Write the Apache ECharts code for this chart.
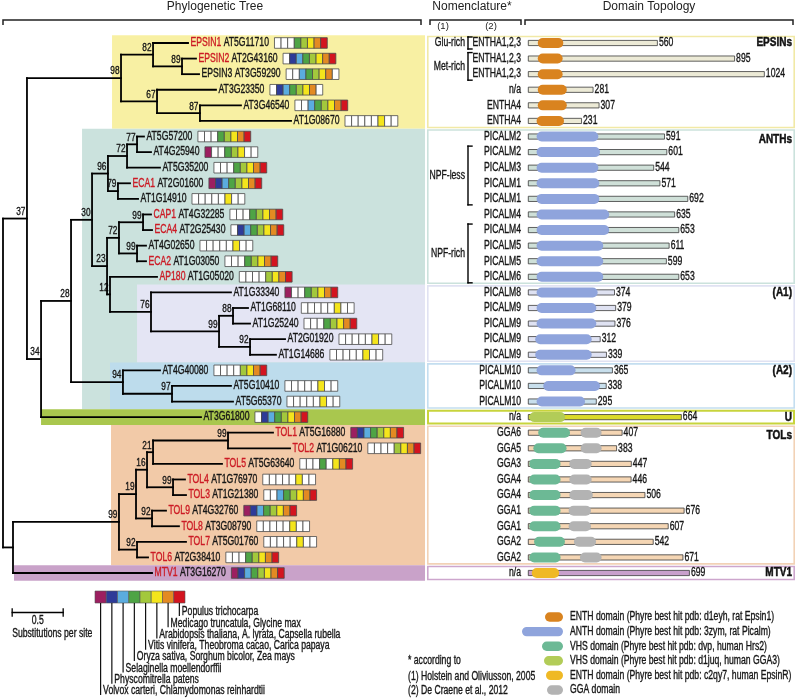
<!DOCTYPE html>
<html><head><meta charset="utf-8">
<script src="https://cdn.jsdelivr.net/npm/echarts@6/dist/echarts.min.js"></script>
<style>html,body{margin:0;padding:0;background:#fff}#c{width:797px;height:700px}</style>
</head><body><div id="c"></div>
<script>
// ---------------- DATA ----------------
const geneIds = ['AT5G11710','AT2G43160','AT3G59290','AT3G23350','AT3G46540','AT1G08670',
 'AT5G57200','AT4G25940','AT5G35200','AT2G01600','AT1G14910','AT4G32285','AT2G25430','AT4G02650','AT1G03050','AT1G05020',
 'AT1G33340','AT1G68110','AT1G25240','AT2G01920','AT1G14686',
 'AT4G40080','AT5G10410','AT5G65370','AT3G61800',
 'AT5G16880','AT1G06210','AT5G63640','AT1G76970','AT1G21380','AT4G32760','AT3G08790','AT5G01760','AT2G38410',
 'AT3G16270'];
const proteinNames = ['EPSIN1','EPSIN2','EPSIN3','','','',
 '','','','ECA1','','CAP1','ECA4','','ECA2','AP180',
 '','','','','',
 '','','','',
 'TOL1','TOL2','TOL5','TOL4','TOL3','TOL9','TOL8','TOL7','TOL6',
 'MTV1'];
const studiedNames = ['EPSIN1','EPSIN2','ECA1','CAP1','ECA4','ECA2','AP180','TOL1','TOL2','TOL5','TOL4','TOL3','TOL9','TOL8','TOL7','TOL6','MTV1'];
// presence in: Volvox/Chlamy, Physcomitrella, Selaginella, Oryza.., Vitis.., Arabidopsis.., Medicago.., Populus
const speciesPresence = ['00011111','01111111','00111110','01111110','00111111','00000100',
 '00011111','10011100','00011111','11111111','00000100','00011111','01111111','00000100','00011111','00001111',
 '10011111','00000100','00011111','00000100','00000100',
 '00001111','00000100','00000100','01111111',
 '11111111','00001111','00010111','00000100','00111111','11111111','00000100','00000100','00011111',
 '11111111'];
const speciesLabels = ['Volvox carteri, Chlamydomonas reinhardtii','Physcomitrella patens','Selaginella moellendorffii',
 'Oryza sativa, Sorghum bicolor, Zea mays','Vitis vinifera, Theobroma cacao, Carica papaya',
 'Arabidopsis thaliana, A. lyrata, Capsella rubella','Medicago truncatula, Glycine max','Populus trichocarpa'];
// tree: [node, parent, branch length (substitutions/site), bootstrap]
const treeEdges = [
 ['n37','root',0.235,37],['nTM','root',0.098,null],
 ['n98','n37',0.922,98],['n34','n37',0.138,34],
 ['n82','n98',0.314,82],['n67','n98',0.353,67],
 ['AT5G11710','n82',0.343,null],['n89','n82',0.284,89],
 ['AT2G43160','n89',0.137,null],['AT3G59290','n89',0.167,null],
 ['AT3G23350','n67',0.578,null],['n87','n67',0.421,87],
 ['AT3G46540','n87',0.402,null],['AT1G08670','n87',0.893,null],
 ['n28','n34',0.294,28],['AT3G61800','n34',1.568,null],
 ['n30','n28',0.206,30],['n94','n28',0.509,94],
 ['n96','n30',0.156,96],['n23','n30',0.147,23],
 ['n72a','n96',0.187,72],['n79','n96',0.098,79],
 ['n77','n72a',0.098,77],['AT5G35200','n72a',0.323,null],
 ['AT5G57200','n77',0.068,null],['AT4G25940','n77',0.137,null],
 ['AT2G01600','n79',0.118,null],['AT1G14910','n79',0.197,null],
 ['n72b','n23',0.117,72],['n12','n23',0.029,12],
 ['n99a','n72b',0.236,99],['n99b','n72b',0.177,99],
 ['AT4G32285','n99a',0.078,null],['AT2G25430','n99a',0.088,null],
 ['AT4G02650','n99b',0.088,null],['AT1G03050','n99b',0.088,null],
 ['AT1G05020','n12',0.461,null],['n76','n12',0.402,76],
 ['AT1G33340','n76',0.784,null],['n99c','n76',0.667,99],
 ['n88','n99c',0.137,88],['n92c','n99c',0.304,92],
 ['AT1G68110','n88',0.147,null],['AT1G25240','n88',0.167,null],
 ['AT2G01920','n92c',0.343,null],['AT1G14686','n92c',0.254,null],
 ['AT4G40080','n94',0.363,null],['n97','n94',0.481,97],
 ['AT5G10410','n97',0.578,null],['AT5G65370','n97',0.598,null],
 ['n99T','nTM',1.039,99],['AT3G16270','nTM',1.363,null],
 ['n19','n99T',0.167,19],['n92b','n99T',0.177,92],
 ['n16','n19',0.108,16],['n92a','n19',0.157,92],
 ['n21','n16',0.059,21],['n99d','n16',0.255,99],
 ['n99e','n21',0.735,99],['AT5G63640','n21',0.676,null],
 ['AT5G16880','n99e',0.441,null],['AT1G06210','n99e',0.608,null],
 ['AT1G76970','n99d',0.117,null],['AT1G21380','n99d',0.127,null],
 ['AT4G32760','n92a',0.137,null],['AT3G08790','n92a',0.264,null],
 ['AT5G01760','n92b',0.480,null],['AT2G38410','n92b',0.108,null]
];
const scaleBarLength = 0.5;
const nomenclature2 = ['ENTHA1,2,3','ENTHA1,2,3','ENTHA1,2,3','n/a','ENTHA4','ENTHA4',
 'PICALM2','PICALM2','PICALM3','PICALM1','PICALM1','PICALM4','PICALM4','PICALM5','PICALM5','PICALM6',
 'PICALM8','PICALM9','PICALM9','PICALM9','PICALM9',
 'PICALM10','PICALM10','PICALM10','n/a',
 'GGA6','GGA5','GGA3','GGA4','GGA4','GGA1','GGA1','GGA2','GGA2','n/a'];
const nomenclature1 = [['Glu-rich',0,0],['Met-rich',1,2],['NPF-less',7,10],['NPF-rich',12,15]];
const proteinLengths = [560,895,1024,281,307,231,
 591,601,544,571,692,635,653,611,599,653,
 374,379,376,312,339,
 365,338,295,664,
 407,383,447,446,506,676,607,542,671,
 699];
const domainSpans = [
 [['ENTH',41,152]],[['ENTH',41,149]],[['ENTH',41,149]],[['ENTH',41,167]],[['ENTH',41,167]],[['ENTH',36,155]],
 [['ANTH',36,304]],[['ANTH',36,311]],[['ANTH',36,304]],[['ANTH',36,308]],[['ANTH',36,308]],
 [['ANTH',36,351]],[['ANTH',36,351]],[['ANTH',36,325]],[['ANTH',36,325]],[['ANTH',36,325]],
 [['ANTH',36,301]],[['ANTH',36,295]],[['ANTH',36,295]],[['ANTH',30,275]],[['ANTH',30,275]],
 [['ANTH',36,205]],[['ANTH',65,311]],[['ANTH',36,246]],
 [['VHS2',5,160]],
 [['VHS',43,181],['GGA',227,318]],[['VHS',22,166],['GGA',227,318]],[['VHS',4,140],['GGA',178,275]],
 [['VHS',4,140],['GGA',178,275]],[['VHS',4,140],['GGA',178,280]],[['VHS',4,140],['GGA',175,272]],
 [['VHS',4,140],['GGA',175,272]],[['VHS',25,159],['GGA',198,294]],[['VHS',4,140],['GGA',224,318]],
 [['ENTH2',15,134]]
];
const groupNames = ['EPSINs','ANTHs','(A1)','(A2)','U','TOLs','MTV1'];
const groupFirstRow = [0,6,16,21,24,25,34];
const groupLastRow = [5,15,20,23,24,33,34];
const domainLegend = [['ENTH','ENTH domain (Phyre best hit pdb: d1eyh, rat Epsin1)'],
 ['ANTH','ANTH domain (Phyre best hit pdb: 3zym, rat Picalm)'],
 ['VHS','VHS domain (Phyre best hit pdb: dvp, human Hrs2)'],
 ['VHS2','VHS domain (Phyre best hit pdb: d1juq, human GGA3)'],
 ['ENTH2','ENTH domain (Phyre best hit pdb: c2qy7, human EpsinR)'],
 ['GGA','GGA domain']];
const footnotes = ['* according to','(1) Holstein and Oliviusson, 2005','(2) De Craene et al., 2012'];

// ---------------- STYLE / LAYOUT ----------------
const NARROW = '"Liberation Sans",Arial,sans-serif';
const SX = 0.72; // horizontal condensing of label text
const REG = '"Liberation Sans",Roboto,sans-serif';
const RED = '#cc1a24';
const INK = '#151515';
const speciesColors = ['#9c1f60','#2e3b98','#5bacdf','#4ea445','#a3c83c','#f4e51c','#e38a22','#d3141f'];
const domainColors = {ENTH:'#d9831f',ANTH:'#8fa4dc',VHS:'#6cb995',VHS2:'#b2cc58',ENTH2:'#efb925',GGA:'#b3b3b3'};
const groupStyle = {
 'EPSINs':{fill:'#f8f0a3',border:'#f1e9a6',bar:'#ecead6',treeFrom:1.069,treeRows:[0,5]},
 'ANTHs':{fill:'#cbe2dd',border:'#cbe2dc',bar:'#cfe0d8',treeFrom:0.775,treeRows:[6,23]},
 '(A1)':{fill:'#e4e5f4',border:'#e0e2f2',bar:'#dfe2f2',treeFrom:1.314,treeRows:[16,20]},
 '(A2)':{fill:'#bddcec',border:'#c4def0',bar:'#c8dfec',treeFrom:1.049,treeRows:[21,23]},
 'U':{fill:'#a9c74e',border:'#c8d43c',bar:'#dada2a',treeFrom:0.373,treeRows:[24,24]},
 'TOLs':{fill:'#f2caa8',border:'#f2d2b6',bar:'#f5d6b4',treeFrom:1.059,treeRows:[25,33]},
 'MTV1':{fill:'#c9a2c9',border:'#cda6cd',bar:'#c9a0cc',treeFrom:0.108,treeRows:[34,34]}
};
const TOP = 35.2, HEIGHT = 545.6;
const TREE_PX = 102, AA_PX = 0.2305;

// ---------------- LAYOUT COMPUTATION ----------------
const childrenOf = {}, edgeOf = {};
treeEdges.forEach(e => { (childrenOf[e[1]] = childrenOf[e[1]] || []).push(e[0]); edgeOf[e[0]] = e; });
const rowOf = {}; geneIds.forEach((g, i) => rowOf[g] = i);
const nodes = [];
function place(id, depth, parentDepth) {
  const kids = childrenOf[id] || [];
  let y, yMin = null, yMax = null;
  if (!kids.length) y = rowOf[id];
  else {
    const ys = kids.map(k => place(k, depth + edgeOf[k][2], depth));
    yMin = Math.min(...ys); yMax = Math.max(...ys); y = (ys[0] + ys[ys.length - 1]) / 2;
  }
  nodes.push({id, depth, parentDepth, y, yMin, yMax, support: edgeOf[id] ? edgeOf[id][3] : null, leaf: !kids.length});
  return y;
}
place('root', 0, null);
const rowGroup = []; groupNames.forEach((g, i) => { for (let r = groupFirstRow[i]; r <= groupLastRow[i]; r++) rowGroup[r] = g; });

const mctx = document.createElement('canvas').getContext('2d');
function tw(t, size, fam, w) { mctx.font = (w || 'normal') + ' ' + size + 'px ' + fam; return mctx.measureText(t).width * SX; }
function txt(x, y, text, o) {
  o = o || {};
  const fill = o.fill || INK;
  return {type:'text', x, y, scaleX:o.sx || SX, style:{text, fill, stroke:fill, lineWidth:o.weight ? 0.5 : 0.35,
    fontSize:o.size || 12, fontFamily:o.fam || NARROW,
    fontWeight:o.weight || 'normal', align:o.align || 'left', verticalAlign:o.va || 'middle'}};
}
function ln(x1, y1, x2, y2, w, c) { return {type:'line', shape:{x1, y1, x2, y2}, style:{stroke:c || '#000', lineWidth:w || 1.8, lineCap:'square'}}; }

const yAxisBase = {type:'value', min:-0.5, max:geneIds.length - 0.5, inverse:true, show:false};
const option = {
  animation:false,
  grid:[
    {left:3, top:TOP, width:422, height:HEIGHT},
    {left:428, top:TOP, width:93, height:HEIGHT},
    {left:528.3, top:TOP, width:1150 * AA_PX, height:HEIGHT},
    {left:427, top:TOP, width:368, height:HEIGHT}
  ],
  xAxis:[
    {type:'value', gridIndex:0, min:0, max:422 / TREE_PX, show:false},
    {type:'value', gridIndex:1, min:0, max:1, show:false},
    {type:'value', gridIndex:2, min:0, max:1150, show:false},
    {type:'value', gridIndex:3, min:0, max:1, show:false}
  ],
  yAxis:[0,1,2,3].map(i => Object.assign({gridIndex:i}, yAxisBase)),
  series:[
    // left coloured panels
    {type:'custom', xAxisIndex:0, yAxisIndex:0, z:1, silent:true,
     data:groupNames.map((g) => [groupStyle[g].treeFrom, groupStyle[g].treeRows[0], groupStyle[g].treeRows[1]]),
     renderItem(params, api) {
       const g = groupNames[params.dataIndex], s = groupStyle[g];
       const a = api.coord([api.value(0), api.value(1) - 0.5]);
       const b = api.coord([422 / TREE_PX, api.value(2) + 0.5]);
       return {type:'rect', shape:{x:a[0], y:a[1], width:b[0] - a[0], height:b[1] - a[1]}, style:{fill:s.fill}};
     }},
    // right panels
    {type:'custom', xAxisIndex:3, yAxisIndex:3, z:1, silent:true,
     data:groupNames.map((g, i) => [0, groupFirstRow[i], groupLastRow[i]]),
     renderItem(params, api) {
       const g = groupNames[params.dataIndex], s = groupStyle[g];
       const a = api.coord([0, api.value(1) - 0.5]);
       const b = api.coord([1, api.value(2) + 0.5]);
       const lw = g === 'U' ? 2 : 1.6;
       return {type:'group', children:[
         {type:'rect', shape:{x:a[0] + lw / 2, y:a[1] + lw / 2 + 0.5, width:b[0] - a[0] - lw, height:b[1] - a[1] - lw - 1}, style:{fill:'#fff', stroke:s.border, lineWidth:lw}},
         txt(b[0] - 3, api.coord([0, api.value(1)])[1] + (g === 'ANTHs' || g === 'TOLs' ? 3 : 0), g, {size:12.5, weight:'bold', align:'right', fill:'#111', sx:0.8})
       ]};
     }},
    // tree
    {type:'custom', xAxisIndex:0, yAxisIndex:0, z:3, silent:true,
     data:nodes.map(n => [n.depth, n.y]),
     renderItem(params, api) {
       const n = nodes[params.dataIndex];
       const p = api.coord([n.depth, n.y]);
       const ch = [];
       if (n.parentDepth !== null) { const q = api.coord([n.parentDepth, n.y]); ch.push(ln(q[0], p[1], p[0], p[1])); }
       if (!n.leaf) {
         const a = api.coord([n.depth, n.yMin]), b = api.coord([n.depth, n.yMax]);
         ch.push(ln(p[0], a[1], p[0], b[1]));
       }
       if (n.support !== null) ch.push(txt(p[0] - 1.5, p[1] - 0.8, String(n.support), {size:11.5, align:'right', va:'bottom'}));
       if (n.leaf) {
         const r = rowOf[n.id];
         let x = p[0] + 2.5;
         const name = proteinNames[r];
         if (name) {
           ch.push(txt(x, p[1], name, {fill:studiedNames.includes(name) ? RED : INK}));
           x += tw(name + ' ', 12, NARROW);
         }
         ch.push(txt(x, p[1], geneIds[r]));
         x += tw(geneIds[r], 12, NARROW) + 5.5;
         const pres = speciesPresence[r];
         for (let k = 0; k < 8; k++) {
           ch.push({type:'rect', shape:{x:x + k * 6.6, y:p[1] - 5.3, width:6.6, height:10.6},
             style:{fill:pres[k] === '1' ? speciesColors[k] : '#fff', stroke:'#4a4a4a', lineWidth:0.8}});
         }
       }
       return {type:'group', children:ch};
     }},
    // scale bar
    {type:'custom', xAxisIndex:0, yAxisIndex:0, z:3, silent:true,
     data:[[0.09, 0.09 + scaleBarLength]],
     renderItem(params, api) {
       const a = api.coord([api.value(0), 0]), b = api.coord([api.value(1), 0]);
       const y = 612.5;
       return {type:'group', children:[ln(a[0], y, b[0], y, 1.3), ln(a[0], y - 3.5, a[0], y + 3.5, 1.3), ln(b[0], y - 3.5, b[0], y + 3.5, 1.3),
         txt((a[0] + b[0]) / 2, y + 8, String(scaleBarLength), {align:'center'}),
         txt(a[0], y + 21, 'Substitutions per site')]};
     }},
    // nomenclature
    {type:'custom', xAxisIndex:1, yAxisIndex:1, z:3, silent:true,
     data:nomenclature2.map((t, i) => [1, i]),
     renderItem(params, api) {
       const p = api.coord([1, api.value(1)]);
       return txt(p[0], p[1], nomenclature2[params.dataIndex], {align:'right'});
     }},
    {type:'custom', xAxisIndex:1, yAxisIndex:1, z:3, silent:true,
     data:nomenclature1.map(d => [0, d[1], d[2]]),
     renderItem(params, api) {
       const a = api.coord([0, api.value(1)]), b = api.coord([0, api.value(2)]);
       const bx = a[0] + 40, y1 = a[1] - 6, y2 = b[1] + 6;
       return {type:'group', children:[
         ln(bx, y1, bx, y2, 1.4), ln(bx, y1, bx + 4, y1, 1.4), ln(bx, y2, bx + 4, y2, 1.4),
         txt(bx - 3, (a[1] + b[1]) / 2, nomenclature1[params.dataIndex][0], {align:'right'})]};
     }},
    // domain topology
    {type:'custom', xAxisIndex:2, yAxisIndex:2, z:3, silent:true,
     data:proteinLengths.map((L, i) => [L, i]),
     renderItem(params, api) {
       const i = params.dataIndex;
       const a = api.coord([0, i]), b = api.coord([api.value(0), i]);
       const ch = [{type:'rect', shape:{x:a[0], y:a[1] - 2.6, width:b[0] - a[0], height:5.2}, style:{fill:groupStyle[rowGroup[i]].bar, stroke:'#3a3a3a', lineWidth:0.8}}];
       domainSpans[i].forEach(d => {
         const s = api.coord([d[1], i]), e = api.coord([d[2], i]);
         ch.push({type:'rect', shape:{x:s[0], y:a[1] - 5, width:e[0] - s[0], height:10, r:5}, style:{fill:domainColors[d[0]]}});
       });
       ch.push(txt(b[0] + 1.5, a[1], String(proteinLengths[i])));
       return {type:'group', children:ch};
     }}
  ],
  graphic:[]
};

// headers
const G = option.graphic;
[['Phylogenetic Tree',215,3,421],['Nomenclature*',472,430,521],['Domain Topology',649,525,793]].forEach(h => {
  G.push({type:'text', x:h[1], y:7, style:{text:h[0], fill:'#222', fontSize:12, fontFamily:REG, align:'center', verticalAlign:'middle'}});
  G.push({type:'polyline', shape:{points:[[h[2], 25], [h[2], 20], [h[3], 20], [h[3], 25]]}, style:{stroke:'#222', lineWidth:1.5, fill:null}});
});
G.push({type:'text', x:443, y:26, style:{text:'(1)', fill:'#222', fontSize:9.5, fontFamily:REG, align:'center', verticalAlign:'middle'}});
G.push({type:'text', x:491, y:26, style:{text:'(2)', fill:'#222', fontSize:9.5, fontFamily:REG, align:'center', verticalAlign:'middle'}});
// species legend
function gtxt(x, y, t) { return {type:'text', x, y, scaleX:SX, style:{text:t, fill:INK, stroke:INK, lineWidth:0.35, fontSize:12, fontFamily:NARROW, verticalAlign:'middle'}}; }
speciesColors.forEach((c, k) => {
  const bx = 95 + k * 11.25;
  G.push({type:'rect', shape:{x:bx, y:591, width:11.25, height:12}, style:{fill:c, stroke:'#555', lineWidth:0.6}});
  const ly = 692 - k * 11.3, lx = bx + 5.6;
  G.push({type:'line', shape:{x1:lx, y1:603, x2:lx, y2:ly + 3}, style:{stroke:'#111', lineWidth:1.2}});
  G.push(gtxt(lx + 2.5, ly - 1, speciesLabels[k]));
});
footnotes.forEach((t, k) => G.push(gtxt(408, [661, 677, 691][k], t)));
const legendPillW = {ENTH:18, ANTH:41, VHS:21, VHS2:19, ENTH2:17, GGA:16};
domainLegend.forEach((d, k) => {
  const y = 617 + k * 14.6, w = legendPillW[d[0]];
  G.push({type:'rect', shape:{x:563 - w, y:y - 4.7, width:w, height:9.4, r:4.7}, style:{fill:domainColors[d[0]]}});
  G.push(gtxt(570, y, d[1]));
});

const chart = echarts.init(document.getElementById('c'), null, {renderer:'canvas', width:797, height:700});
chart.setOption(option);
</script></body></html>
